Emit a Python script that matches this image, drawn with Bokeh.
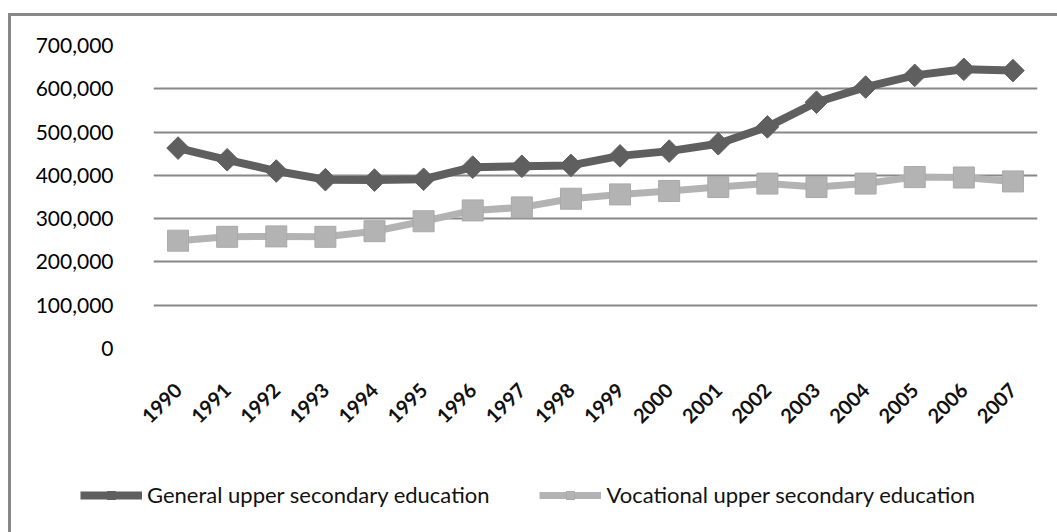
import numpy as np
from bokeh.plotting import figure
from bokeh.layouts import column
from bokeh.models import FixedTicker, NumeralTickFormatter, Legend, FactorRange, Range1d
from bokeh.embed import file_html
from bokeh.resources import INLINE

years = [str(y) for y in range(1990, 2008)]
general = [463000, 436000, 410000, 390000, 389000, 391000, 419000, 421000, 423000,
           445000, 456000, 473000, 512000, 569000, 604000, 631000, 645000, 642000]
vocational = [249000, 258000, 259000, 258000, 271000, 294000, 319000, 326000, 346000,
              356000, 364000, 373000, 381000, 373000, 381000, 396000, 395000, 386000]
y_ticks = [0, 100000, 200000, 300000, 400000, 500000, 600000, 700000]
series_names = ["General upper secondary education", "Vocational upper secondary education"]

FONT = "Lato"
DARK = "#5f5f5f"
LIGHT = "#b3b3b3"
GRID = "#878787"

# main chart
p = figure(x_range=FactorRange(*years, range_padding=0), y_range=(0, 700000),
           output_backend="svg", toolbar_location=None,
           width=1046, height=432,
           min_border_left=142, min_border_top=29, min_border_right=20, min_border_bottom=100)
p.outline_line_color = None
p.background_fill_color = "white"
p.border_fill_color = "white"

p.xgrid.grid_line_color = None
p.ygrid.grid_line_color = GRID
p.ygrid.grid_line_width = 2
p.ygrid.ticker = FixedTicker(ticks=y_ticks)

p.yaxis.ticker = FixedTicker(ticks=y_ticks)
p.yaxis.formatter = NumeralTickFormatter(format="0,0")
p.yaxis.axis_line_color = None
p.yaxis.major_tick_line_color = None
p.yaxis.minor_tick_line_color = None
p.yaxis.major_label_standoff = 34
p.yaxis.major_label_text_font = FONT
p.yaxis.major_label_text_font_size = "21px"
p.yaxis.major_label_text_color = "#000000"

p.xaxis.axis_line_color = None
p.xaxis.major_tick_line_color = None
p.xaxis.minor_tick_line_color = None
p.xaxis.major_label_orientation = np.pi / 4
p.xaxis.major_label_standoff = 32
p.xaxis.major_label_text_font = FONT
p.xaxis.major_label_text_font_size = "20px"
p.xaxis.major_label_text_font_style = "bold"
p.xaxis.major_label_text_color = "#111111"

p.line(years, general, line_color=DARK, line_width=8)
p.scatter(years, general, marker="square", angle=np.pi / 4, size=16,
          fill_color=DARK, line_color=DARK)
p.line(years, vocational, line_color=LIGHT, line_width=7)
p.scatter(years, vocational, marker="square", size=21,
          fill_color=LIGHT, line_color="#a9a9a9", line_width=1)

# legend strip: its renderers share the series but lie outside its (empty) view
p2 = figure(x_range=FactorRange(*years, range_padding=0), y_range=Range1d(-2, -1),
            output_backend="svg", toolbar_location=None, width=1046, height=84,
            x_axis_type=None, y_axis_type=None, min_border=0)
p2.outline_line_color = None
p2.xgrid.visible = False
p2.ygrid.visible = False
p2.background_fill_color = "white"
p2.border_fill_color = "white"

aligned_off = False
if "frame_align" in p2.properties():
    p2.frame_align = False
    p.frame_align = False
    aligned_off = True

g1 = p2.line(years, general, line_color=DARK, line_width=8)
g1s = p2.scatter(years, general, marker="square", angle=np.pi / 4, size=15,
                 fill_color=DARK, line_color=DARK)
g2 = p2.line(years, vocational, line_color=LIGHT, line_width=7)
g2s = p2.scatter(years, vocational, marker="square", size=17,
                 fill_color=LIGHT, line_color="#a9a9a9", line_width=1)

legend = Legend(items=[(series_names[0], [g1, g1s]), (series_names[1], [g2, g2s])],
                orientation="horizontal",
                location=(69, 24) if aligned_off else (0, 24),
                glyph_width=62, glyph_height=20, label_standoff=5,
                spacing=50 if aligned_off else 42,
                label_text_font=FONT, label_text_font_size="22px", label_text_color="#111111",
                border_line_color=None, background_fill_alpha=0, margin=0, padding=0)
p2.add_layout(legend, "center")

layout = column(p, p2, spacing=0,
                styles={"border-top": "3px solid #878787", "border-left": "3px solid #878787",
                        "margin-top": "13px", "margin-left": "8px"})

open("out.html", "w").write(file_html(layout, INLINE))
